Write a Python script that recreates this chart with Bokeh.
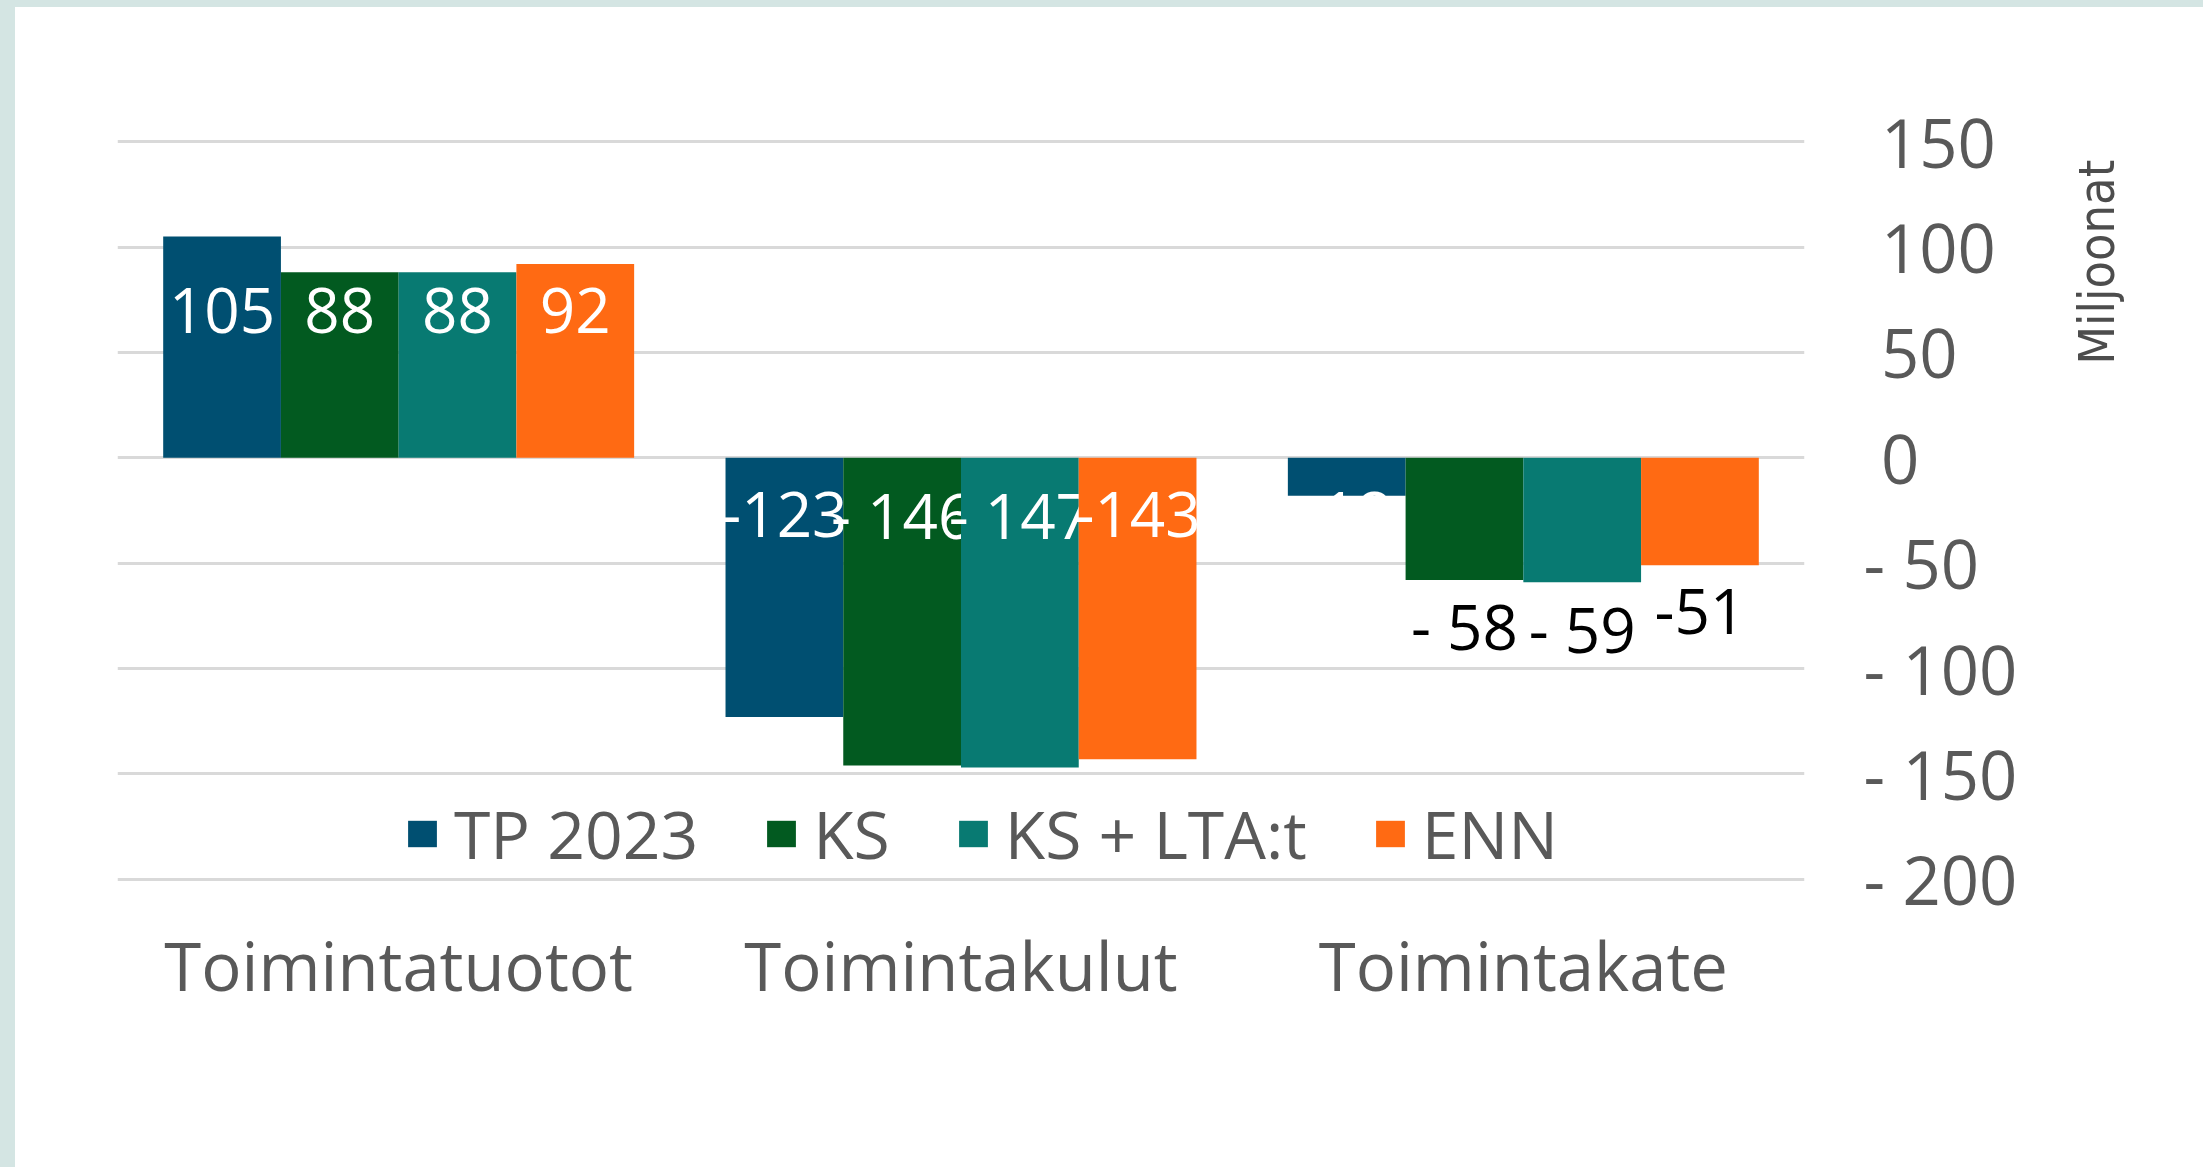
import math
from bokeh.plotting import figure
from bokeh.models import (ColumnDataSource, FactorRange, Range1d, FixedTicker,
                          Legend, LegendItem)
from bokeh.transform import dodge
from bokeh.core.properties import value
from bokeh.layouts import row
from bokeh.embed import file_html
from bokeh.resources import INLINE

# ---------------- data ----------------
categories = ["Toimintatuotot", "Toimintakulut", "Toimintakate"]
series_names = ["TP 2023", "KS", "KS + LTA:t", "ENN"]
tp2023 = [105, -123, -18]
ks = [88, -146, -58]
ks_lta = [88, -147, -59]
enn = [92, -143, -51]
y_ticks = [-200, -150, -100, -50, 0, 50, 100, 150]
axis_unit = "Miljoonat"

series_values = [tp2023, ks, ks_lta, enn]
colors = ["#004f71", "#025a20", "#087a72", "#ff6a13"]
spaced_minus = [False, True, True, False]

FONT = "Open Sans"
GRAY = "#595959"
H = 1160

p = figure(x_range=FactorRange(*categories), y_range=Range1d(-202, 152),
           width=2030, height=H, output_backend="svg", toolbar_location=None,
           y_axis_location="right", min_border_left=102, min_border_top=130,
           min_border_right=241, min_border_bottom=284)
p.margin = (7, 0, 0, 15)
p.styles = {"background-color": "white"}
p.outline_line_color = None
p.background_fill_color = "white"
p.border_fill_color = "white"
p.xgrid.grid_line_color = None
p.ygrid.grid_line_color = "#d9d9d9"
p.ygrid.grid_line_width = 3
p.ygrid.ticker = FixedTicker(ticks=y_ticks)

# y axis (right)
yax = p.yaxis[0]
yax.ticker = FixedTicker(ticks=y_ticks)
yax.major_label_overrides = {t: ("- " + str(-t)) if t < 0 else "\u00a0" + str(t) for t in y_ticks}
yax.axis_line_color = None
yax.major_tick_line_color = None
yax.minor_tick_line_color = None
yax.major_tick_out = 0
yax.major_tick_in = 0
yax.major_label_standoff = 59
yax.major_label_text_font = FONT
yax.major_label_text_font_size = "67px"
yax.major_label_text_color = GRAY

# x axis
xax = p.xaxis[0]
xax.axis_line_color = None
xax.major_tick_line_color = None
xax.major_tick_out = 0
xax.major_label_standoff = 35
xax.major_label_text_font = FONT
xax.major_label_text_font_size = "67px"
xax.major_label_text_color = GRAY

n = len(series_values)
bar_w = 0.8375 / n
offsets = [(-(n - 1) / 2 + i) * bar_w for i in range(n)]

def fmt(v, spaced):
    if v >= 0:
        return str(v)
    return ("- " if spaced else "-") + str(-v)

items = []
for i, (name, vals) in enumerate(zip(series_names, series_values)):
    label_y, label_txt, label_col = [], [], []
    for ci, v in enumerate(vals):
        label_txt.append(fmt(v, spaced_minus[i]))
        if ci == 0:
            label_y.append(70); label_col.append("white")
        elif ci == 1:
            label_y.append(-27); label_col.append("white")
        else:
            if i == 0:
                label_y.append(-27); label_col.append("white")
            else:
                label_y.append(v - 22); label_col.append("black")
    src = ColumnDataSource(dict(cat=categories, val=vals, ly=label_y,
                                lt=label_txt, lc=label_col))
    r = p.vbar(x=dodge("cat", offsets[i], range=p.x_range), top="val", bottom=0,
               width=bar_w, source=src, fill_color=colors[i], line_color=None)
    items.append(LegendItem(label=name, renderers=[r]))
    p.text(x=dodge("cat", offsets[i], range=p.x_range), y="ly", text="lt",
           text_color="lc", source=src, text_align="center", text_baseline="middle",
           text_font=value(FONT), text_font_size="62px")

legend = Legend(items=items, orientation="horizontal", location=(287, 5),
                glyph_width=36, glyph_height=33, label_standoff=14, spacing=65,
                padding=0, margin=0, border_line_color=None, background_fill_alpha=0,
                label_text_font=FONT, label_text_font_size="66px",
                label_text_color=GRAY)
p.add_layout(legend, "center")

# side panel holding the unit caption
W2 = 2203 - 15 - 2030
p2 = figure(width=W2, height=H, x_range=Range1d(0, W2), y_range=Range1d(0, H),
            output_backend="svg", toolbar_location=None,
            min_border_left=0, min_border_right=0, min_border_top=0, min_border_bottom=0)
p2.margin = (7, 0, 0, 0)
p2.styles = {"background-color": "white"}
p2.axis.visible = False
p2.grid.visible = False
p2.outline_line_color = None
p2.border_fill_color = "white"
p2.text(x=[51], y=[966], text=[axis_unit], angle=math.pi / 2,
        text_align="center", text_baseline="middle",
        text_font=value("DejaVu Sans Condensed, Liberation Sans Narrow, Roboto"),
        text_font_size="50px", text_color="#4d4d4d")

layout = row(p, p2, styles={"background-color": "#d4e5e3"})

open("out.html", "w").write(file_html(layout, INLINE))
